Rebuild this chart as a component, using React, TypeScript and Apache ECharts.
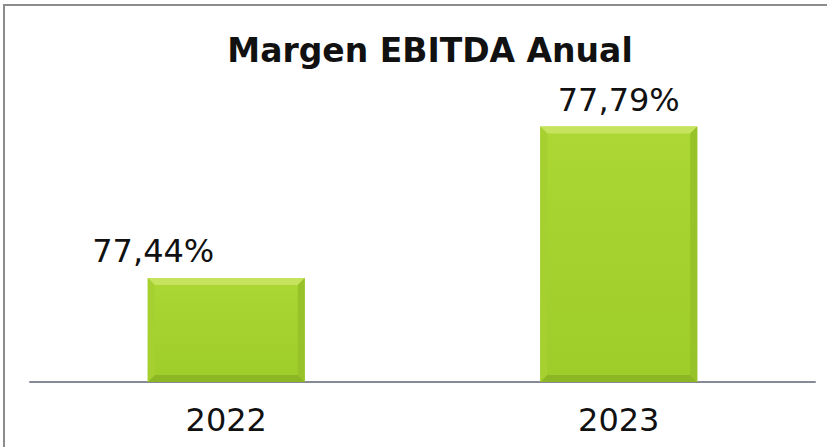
import React, { useEffect, useRef } from "react";
import * as echarts from "echarts";

const years = ["2022", "2023"];
const margins = [77.44, 77.79];
const labelOffsetsX = [-73, 0];

const AXIS_MIN = 77.2;
const AXIS_MAX = 77.9;

const fmt = (v: number) => v.toFixed(2).replace(".", ",") + "%";

export default function App() {
  const ref = useRef<HTMLDivElement>(null);
  useEffect(() => {
    if (!ref.current) return;
    const chart = echarts.init(ref.current, undefined, { renderer: "svg" });
    const barData = margins.map((v, i) => ({
      value: v,
      label: { offset: [labelOffsetsX[i], 0] },
    }));
    const bevelData = margins.map((v, i) => [i, v]);
    chart.setOption({
      animation: false,
      backgroundColor: "#ffffff",
      title: {
        text: "Margen EBITDA Anual",
        left: 425,
        textAlign: "center",
        top: 29,
        textStyle: {
          fontFamily: "DejaVu Sans",
          fontWeight: "bold",
          fontSize: 33,
          color: "#111111",
        },
      },
      graphic: [
        {
          type: "line",
          shape: { x1: 4, y1: 5, x2: 4, y2: 447 },
          style: { stroke: "#8c8c8c", lineWidth: 2 },
        },
        {
          type: "line",
          shape: { x1: 3, y1: 5, x2: 827, y2: 5 },
          style: { stroke: "#8c8c8c", lineWidth: 2 },
        },
      ],
      grid: { left: 30, right: 12, top: 79, bottom: 65 },
      xAxis: {
        type: "category",
        data: years,
        axisLine: { show: true, lineStyle: { color: "#868a98", width: 2 } },
        axisTick: { show: false },
        axisLabel: {
          fontFamily: "DejaVu Sans",
          fontSize: 32,
          color: "#111111",
          margin: 22,
        },
      },
      yAxis: {
        type: "value",
        min: AXIS_MIN,
        max: AXIS_MAX,
        show: false,
        splitLine: { show: false },
      },
      series: [
        {
          type: "bar",
          data: barData,
          barWidth: "40%",
          itemStyle: {
            color: new echarts.graphic.LinearGradient(0, 0, 0, 1, [
              { offset: 0, color: "#acd734" },
              { offset: 1, color: "#9ecc28" },
            ]),
          },
          label: {
            show: true,
            position: "top",
            distance: 11,
            formatter: (p: any) => fmt(p.value),
            fontFamily: "DejaVu Sans",
            fontSize: 32,
            color: "#111111",
          },
        },
        {
          type: "custom",
          silent: true,
          z: 3,
          data: bevelData,
          renderItem: (params: any, api: any) => {
            const idx = api.value(0);
            const top = api.coord([idx, api.value(1)]);
            const base = api.coord([idx, AXIS_MIN]);
            const w = api.size([1, 0])[0] * 0.4;
            const L = top[0] - w / 2;
            const R = top[0] + w / 2;
            const T = top[1];
            const B = base[1];
            const b = 7;
            return {
              type: "group",
              children: [
                {
                  type: "polygon",
                  shape: { points: [[L, T], [R, T], [R - b, T + b], [L + b, T + b]] },
                  style: { fill: "#c6e35e" },
                },
                {
                  type: "polygon",
                  shape: { points: [[L, B], [R, B], [R - b, B - b], [L + b, B - b]] },
                  style: { fill: "#8db625" },
                },
                {
                  type: "polygon",
                  shape: { points: [[L, T], [L + b, T + b], [L + b, B - b], [L, B]] },
                  style: { fill: "#a5d030" },
                },
                {
                  type: "polygon",
                  shape: { points: [[R, T], [R - b, T + b], [R - b, B - b], [R, B]] },
                  style: { fill: "#97c229" },
                },
              ],
            };
          },
        },
      ],
    });
    return () => chart.dispose();
  }, []);
  return (
    <div
      ref={ref}
      style={{ position: "absolute", left: 0, top: 0, width: 827, height: 447 }}
    />
  );
}
